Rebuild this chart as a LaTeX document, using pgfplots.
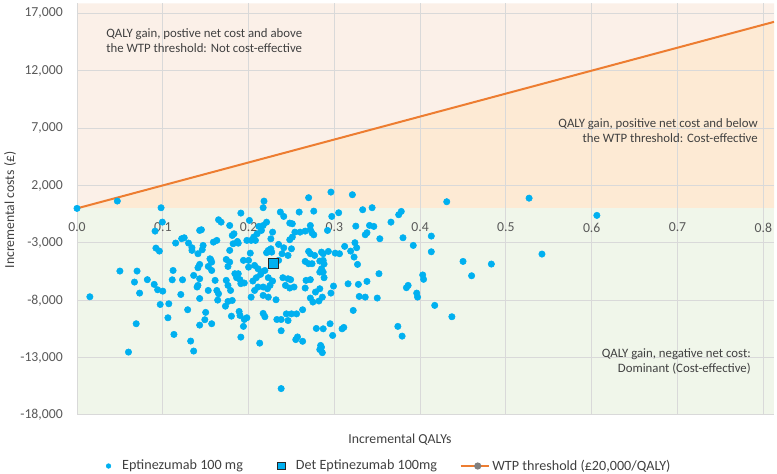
\documentclass[border=0pt]{standalone}
\usepackage{fontspec}
\setmainfont{Carlito}
\usepackage{pgfplots}
\pgfplotsset{compat=1.18}

\definecolor{ptblue}{RGB}{0,176,240}
\definecolor{wtporange}{RGB}{237,125,49}
\definecolor{regionpeach}{RGB}{251,240,232}
\definecolor{regionorange}{RGB}{253,234,212}
\definecolor{regiongreen}{RGB}{240,246,234}
\definecolor{gridgray}{RGB}{217,217,217}
\definecolor{ticktext}{RGB}{89,89,89}
\definecolor{labeltext}{RGB}{64,64,64}

\begin{document}
\begin{tikzpicture}
\begin{axis}[
  at={(0pt,0pt)}, anchor=south west,
  scale only axis, width=522.75pt, height=308.8pt,
  xmin=0, xmax=0.8125, ymin=-18000, ymax=17871,
  set layers,
  axis x line=middle, axis y line=left,
  axis line style={draw=none},
  hide obscured x ticks=false, hide obscured y ticks=false,
  major tick length=0pt,
  xtick={0,0.1,0.2,0.3,0.4,0.5,0.6,0.7,0.8},
  ytick={-18000,-13000,-8000,-3000,2000,7000,12000,17000},
  scaled x ticks=false, scaled y ticks=false,
  grid=major, major grid style={gridgray, line width=0.75pt},
  /pgf/number format/assume math mode=true,
  tick label style={font=\fontsize{10.3}{12}\selectfont, text=ticktext},
  xticklabel style={anchor=north, inner sep=0pt, yshift=-10.8pt,
    /pgf/number format/.cd, fixed, fixed zerofill, precision=1},
  yticklabel style={anchor=east, inner sep=0pt, xshift=-10.5pt,
    /pgf/number format/.cd, fixed, precision=0, 1000 sep={,}},
  xlabel={Incremental QALYs},
  ylabel={Incremental costs (£)},
  every axis x label/.style={at={(axis description cs:0.4634,-0.0607)}, anchor=center,
    font=\fontsize{10.3}{12}\selectfont, text=labeltext},
  every axis y label/.style={at={(axis description cs:-0.0961,0.4979)}, anchor=center, rotate=90,
    font=\fontsize{10.3}{12}\selectfont, text=labeltext},
  legend columns=3,
  legend style={draw=none, fill=none,
    at={(axis description cs:0.0354,-0.1239)}, anchor=west,
    font=\fontsize{10.6}{12}\selectfont, text=labeltext,
    /tikz/every odd column/.append style={column sep=0pt},
    /tikz/every even column/.append style={column sep=0pt}},
]

% quadrant shading
\addplot[fill=regionpeach, draw=none, forget plot, on layer=axis background]
  coordinates {(0,0) (0,17871) (0.8125,17871) (0.8125,16250)};
\addplot[fill=regionorange, draw=none, forget plot, on layer=axis background]
  coordinates {(0,0) (0.8125,16250) (0.8125,0)};
\addplot[fill=regiongreen, draw=none, forget plot, on layer=axis background]
  coordinates {(0,0) (0.8125,0) (0.8125,-18000) (0,-18000)};

% probabilistic sensitivity analysis iterations
\addplot[only marks, mark=*, mark size=2.4pt, mark options={draw=ptblue, fill=ptblue},
  legend image code/.code={\path[draw=none, fill=none] (0pt,0pt) -- (10pt,0pt);
    \fill[ptblue] (1.75pt,0pt) circle (1.75pt);}]
table {
x y
0 0
0.047 640
0.098 55
0.0995 -1195
0.091 -1980
0.165 -990
0.168 -1200
0.178 -1490
0.191 -410
0.201 -1050
0.145 -1860
0.183 -2210
0.181 -2360
0.163 -2790
0.159 -2940
0.147 -3230
0.146 -3600
0.141 -3950
0.155 -4390
0.157 -4680
0.143 -4880
0.153 -5060
0.141 -5170
0.174 -4450
0.178 -4680
0.178 -3660
0.182 -3080
0.187 -2880
0.188 -3030
0.198 -2790
0.203 -2790
0.208 -2790
0.206 -2500
0.210 -2210
0.215 -1920
0.212 -1570
0.217 -1490
0.221 -1200
0.228 -2070
0.226 -2650
0.194 -4530
0.200 -4530
0.202 -3900
0.207 -4970
0.211 -5260
0.215 -5550
0.219 -5410
0.223 -3660
0.226 -3520
0.221 -3860
0.227 -3810
0.235 -3140
0.239 -3950
0.241 -3430
0.246 -4100
0.250 -3520
0.248 -2730
0.251 -2500
0.254 -2070
0.237 -320
0.241 -700
0.248 -1280
0.251 -1340
0.259 -320
0.276 -240
0.260 -2070
0.266 -1980
0.272 -1860
0.274 -2150
0.276 -2300
0.272 -1490
0.270 -3750
0.272 -3950
0.277 -4100
0.266 -4620
0.270 -4820
0.274 -4820
0.283 -4590
0.287 -3950
0.283 -5550
0.287 -5550
0.285 -5260
0.218 633
0.217 60
0.270 930
0.296 1420
0.321 1190
0.333 -117
0.344 60
0.375 -552
0.378 -265
0.366 -1197
0.297 -700
0.305 -380
0.292 -1920
0.325 -1545
0.341 -1485
0.346 -1570
0.336 -2295
0.338 -2120
0.353 -2645
0.380 -2558
0.413 -2413
0.392 -3226
0.413 -3780
0.324 -2990
0.326 -3430
0.319 -3720
0.323 -4240
0.327 -4880
0.312 -3310
0.301 -3900
0.306 -3950
0.293 -3750
0.285 -3810
0.287 -4530
0.288 -4850
0.288 -6040
0.352 -5690
0.338 -6360
0.328 -6620
0.299 -6770
0.296 -7380
0.316 -6570
0.329 -7670
0.336 -7730
0.350 -7810
0.384 -6910
0.386 -6710
0.396 -7380
0.397 -7730
0.403 -5800
0.404 -6180
0.417 -8450
0.322 -8890
0.295 -10050
0.287 -10490
0.309 -10490
0.311 -10370
0.298 -11070
0.284 -11940
0.285 -12100
0.283 -12300
0.286 -12570
0.374 -10280
0.379 -11130
0.431 580
0.527 890
0.606 -610
0.450 -4620
0.483 -4850
0.542 -3980
0.460 -5870
0.437 -9440
0.015 -7700
0.097 -8370
0.107 -8310
0.129 -8830
0.106 -9530
0.069 -10050
0.113 -10980
0.1325 -11560
0.136 -12430
0.060 -12520
0.143 -10170
0.238 -15700
0.213 -11740
0.191 -11215
0.194 -10280
0.238 -10660
0.255 -11430
0.257 -11200
0.263 -11580
0.279 -10460
0.149 -9700
0.150 -9060
0.157 -10050
0.180 -9390
0.189 -8980
0.190 -9330
0.195 -9680
0.198 -9530
0.176 -8110
0.181 -8020
0.173 -8520
0.164 -7990
0.143 -7850
0.203 -7730
0.217 -7580
0.223 -7730
0.232 -7960
0.217 -9150
0.219 -9440
0.233 -9680
0.238 -9680
0.244 -9190
0.250 -9190
0.256 -9190
0.246 -9770
0.263 -8830
0.272 -7810
0.275 -8160
0.282 -8070
0.286 -7730
0.115 -3020
0.122 -2640
0.125 -2560
0.130 -3020
0.134 -3430
0.134 -3660
0.143 -1920
0.092 -3460
0.096 -3720
0.050 -5460
0.070 -5460
0.067 -6420
0.073 -7380
0.082 -6210
0.090 -6620
0.094 -7090
0.100 -7210
0.112 -5410
0.111 -6220
0.123 -6220
0.121 -7500
0.136 -5840
0.140 -6850
0.188 -5690
0.190 -6210
0.186 -6040
0.191 -6560
0.195 -6500
0.205 -6330
0.209 -6040
0.214 -5750
0.223 -6040
0.228 -6330
0.225 -6710
0.222 -7000
0.217 -6850
0.211 -6850
0.207 -7150
0.240 -6040
0.246 -6130
0.249 -6210
0.243 -6710
0.248 -6940
0.253 -6850
0.267 -6270
0.272 -6210
0.266 -6940
0.278 -7290
0.283 -7000
0.157 -5410
0.161 -6270
0.163 -7150
0.153 -7150
0.165 -7440
0.174 -6270
0.176 -6710
0.179 -7150
0.184 -5690
0.143 -6130
0.141 -6710
0.200 -5120
0.235 -4530
0.176 -5060
0.156 -4480
};
\addlegendentry{Eptinezumab 100 mg}

% deterministic result
\addplot[only marks, mark=square*, mark size=3.75pt,
  mark options={draw=black!85, fill=ptblue, line width=0.6pt},
  legend image code/.code={\path[draw=none, fill=none] (0pt,0pt) -- (35.8pt,0pt);
    \filldraw[fill=ptblue, draw=black!85, line width=0.6pt] (24pt,-2.9pt) rectangle (29.8pt,2.9pt);}]
coordinates {(0.229,-4820)};
\addlegendentry{Det Eptinezumab 100mg}

% willingness-to-pay threshold
\addplot[wtporange, line width=1.5pt, no marks,
  legend image code/.code={\path[draw=none, fill=none] (0pt,0pt) -- (15.75pt,0pt);
    \draw[wtporange, line width=1.5pt] (15.75pt,0pt) -- (36.75pt,0pt);
    \fill[gray] (28.5pt,0pt) circle (1.9pt);}]
coordinates {(0,0) (0.8125,16250)};
\addlegendentry{WTP threshold (£20,000/QALY)}
\end{axis}

\begin{scope}[every node/.style={font=\fontsize{9.6}{11.6}\selectfont, text=labeltext, inner sep=0pt}]
\node[anchor=north west, align=left] at (21.75pt,290.25pt)
  {QALY gain, postive net cost and above\\the WTP threshold: Not cost-effective};
\node[anchor=north east, align=right] at (510.75pt,222.75pt)
  {QALY gain, positive net cost and below\\the WTP threshold: Cost-effective};
\node[anchor=north east, align=right] at (505.5pt,50.25pt)
  {QALY gain, negative net cost:\\Dominant (Cost-effective)};
\end{scope}
\pgfresetboundingbox
\path[use as bounding box] (-57.75pt,-44.25pt) rectangle (525pt,311.25pt);
\end{tikzpicture}
\end{document}
